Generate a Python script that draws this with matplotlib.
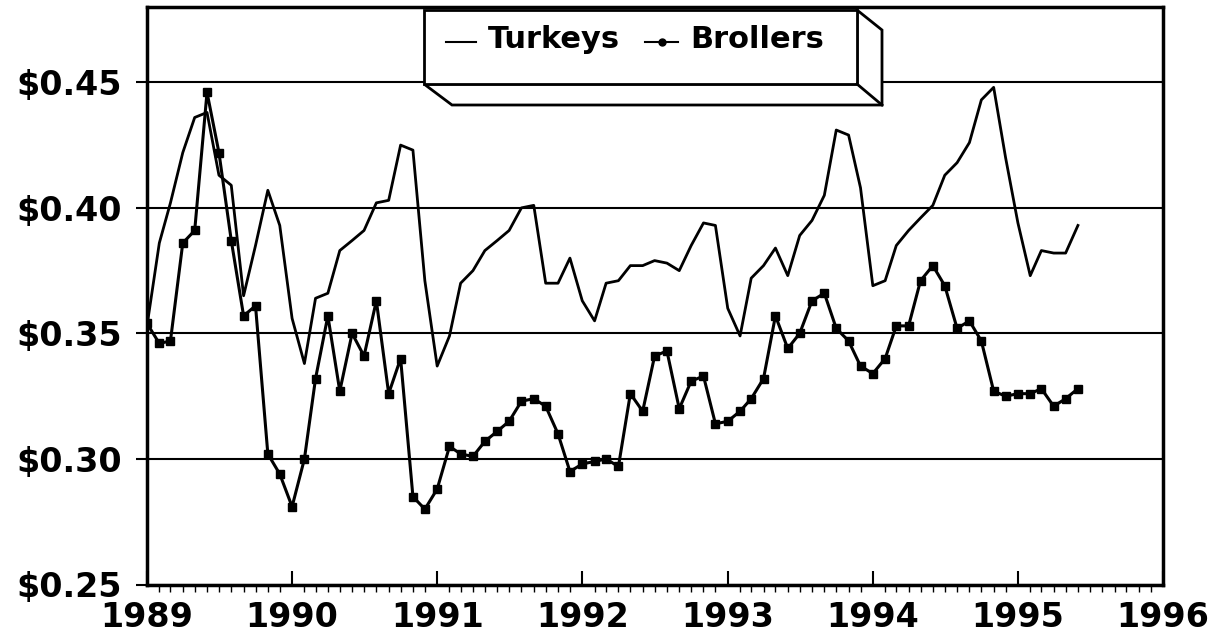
import pandas as pd
import matplotlib
matplotlib.use('Agg')
import matplotlib.pyplot as plt
import matplotlib.dates as mdates
from matplotlib.font_manager import FontProperties
from matplotlib.patches import Polygon
from matplotlib.lines import Line2D

# monthly prices, Jan 1989 - Jun 1995
months = pd.date_range('1989-01-01', periods=78, freq='MS')

turkeys = [0.353, 0.386, 0.402, 0.422, 0.436, 0.438, 0.413, 0.409, 0.365, 0.385,
           0.407, 0.393, 0.356, 0.338, 0.364, 0.366, 0.383, 0.387, 0.391, 0.402,
           0.403, 0.425, 0.423, 0.371, 0.337, 0.349, 0.370, 0.375, 0.383, 0.387,
           0.391, 0.400, 0.401, 0.370, 0.370, 0.380, 0.363, 0.355, 0.370, 0.371,
           0.377, 0.377, 0.379, 0.378, 0.375, 0.385, 0.394, 0.393, 0.360, 0.349,
           0.372, 0.377, 0.384, 0.373, 0.389, 0.395, 0.405, 0.431, 0.429, 0.408,
           0.369, 0.371, 0.385, 0.391, 0.396, 0.401, 0.413, 0.418, 0.426, 0.443,
           0.448, 0.420, 0.394, 0.373, 0.383, 0.382, 0.382, 0.393]

broilers = [0.354, 0.346, 0.347, 0.386, 0.391, 0.446, 0.422, 0.387, 0.357, 0.361,
            0.302, 0.294, 0.281, 0.300, 0.332, 0.357, 0.327, 0.350, 0.341, 0.363,
            0.326, 0.340, 0.285, 0.280, 0.288, 0.305, 0.302, 0.301, 0.307, 0.311,
            0.315, 0.323, 0.324, 0.321, 0.310, 0.295, 0.298, 0.299, 0.300, 0.297,
            0.326, 0.319, 0.341, 0.343, 0.320, 0.331, 0.333, 0.314, 0.315, 0.319,
            0.324, 0.332, 0.357, 0.344, 0.350, 0.363, 0.366, 0.352, 0.347, 0.337,
            0.334, 0.340, 0.353, 0.353, 0.371, 0.377, 0.369, 0.352, 0.355, 0.347,
            0.327, 0.325, 0.326, 0.326, 0.328, 0.321, 0.324, 0.328]

y_ticks = [0.25, 0.30, 0.35, 0.40, 0.45]
y_labels = ['\\$0.25', '\\$0.30', '\\$0.35', '\\$0.40', '\\$0.45']

W, H = 1218, 634
fig = plt.figure(figsize=(W / 100, H / 100), dpi=100)
ax = fig.add_axes([147 / W, 1 - 584.5 / H, (1163 - 147) / W, (584.5 - 7) / H])

heavy = dict(family='DejaVu Sans', weight='bold', size=24)

ax.plot(months, turkeys, color='black', lw=2.0)
ax.plot(months, broilers, color='black', lw=2.2, marker='s', ms=6)

ax.set_ylim(0.25, 0.48)
ax.set_xlim(pd.Timestamp('1989-01-01'), pd.Timestamp('1996-01-01'))
ax.set_yticks(y_ticks)
ax.set_yticklabels(y_labels, fontdict=heavy)
ax.yaxis.grid(True, color='black', lw=1.5)
ax.set_axisbelow(True)

ax.xaxis.set_major_locator(mdates.YearLocator())
ax.xaxis.set_major_formatter(mdates.DateFormatter('%Y'))
ax.xaxis.set_minor_locator(mdates.MonthLocator())
for lab in ax.get_xticklabels():
    lab.set_fontproperties(FontProperties(**heavy))

ax.tick_params(axis='x', which='major', direction='in', length=10, width=1.5, pad=12)
ax.tick_params(axis='x', which='minor', direction='out', length=5, width=1)
ax.tick_params(axis='y', which='major', direction='out', length=8, width=1.5, pad=10)
for s in ax.spines.values():
    s.set_linewidth(2.5)


# 3D legend box, drawn in figure pixels
def px(x, y):
    return (x / W, 1 - y / H)


front = [px(424, 10), px(857, 10), px(857, 84), px(424, 84)]
side = [px(424, 84), px(857, 84), px(857, 10), px(882, 30), px(882, 105), px(452, 105)]
fig.patches.append(Polygon(side, closed=True, transform=fig.transFigure,
                           facecolor='white', edgecolor='black', lw=2, zorder=5))
fig.patches.append(Polygon(front, closed=True, transform=fig.transFigure,
                           facecolor='white', edgecolor='black', lw=2, zorder=6))
fig.lines.append(Line2D([857 / W, 882 / W], [1 - 84 / H, 1 - 105 / H],
                        transform=fig.transFigure, color='black', lw=2, zorder=7))

legend_font = dict(family='DejaVu Sans', weight='bold', size=22)
fig.lines.append(Line2D([446 / W, 476 / W], [1 - 42 / H] * 2,
                        transform=fig.transFigure, color='black', lw=1.5, zorder=7))
fig.text(488 / W, 1 - 40 / H, 'Turkeys', va='center', ha='left', zorder=7, **legend_font)
fig.lines.append(Line2D([645 / W, 678 / W], [1 - 42 / H] * 2,
                        transform=fig.transFigure, color='black', lw=1.5, zorder=7))
fig.lines.append(Line2D([662 / W], [1 - 42 / H], transform=fig.transFigure,
                        color='black', marker='o', ms=5, zorder=8))
fig.text(690 / W, 1 - 40 / H, 'Brollers', va='center', ha='left', zorder=7, **legend_font)

plt.savefig('out.png', dpi=100)
